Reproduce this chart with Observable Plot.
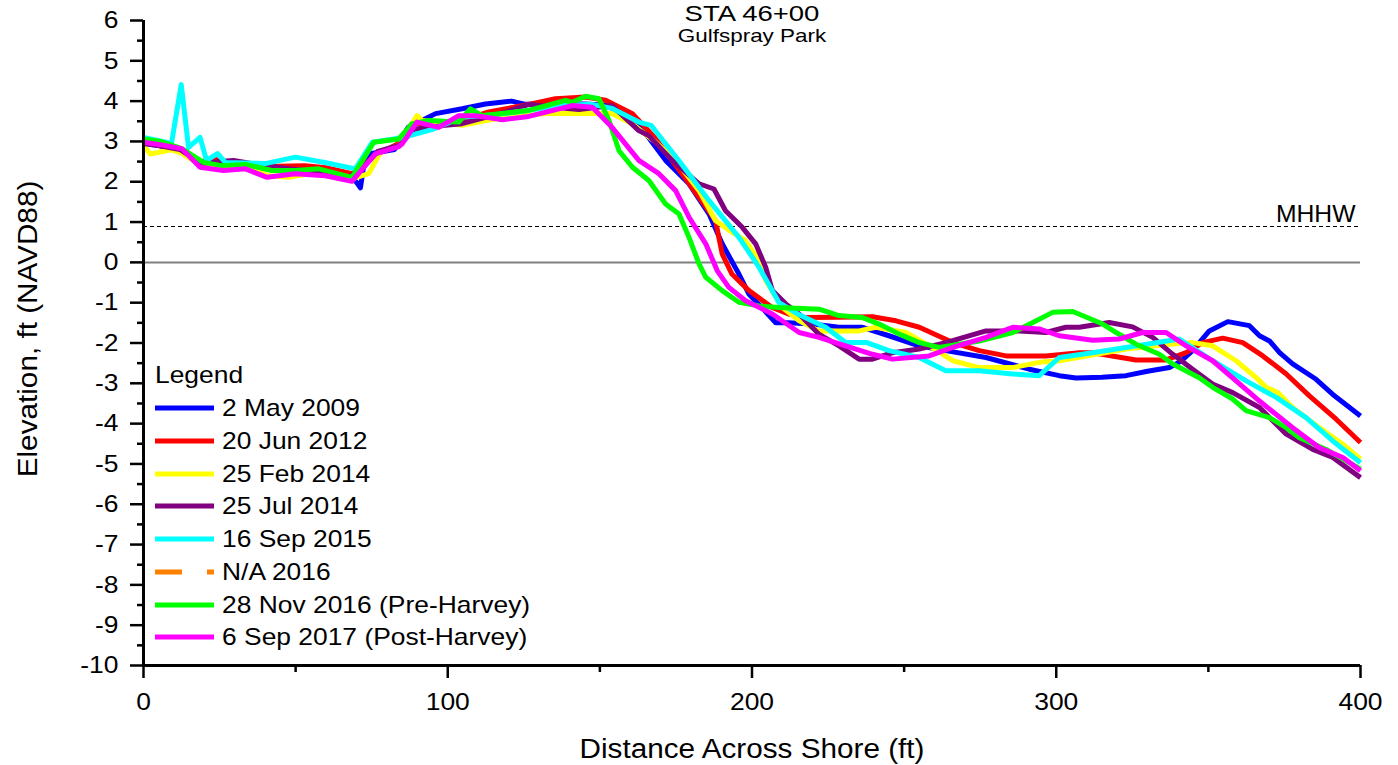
<!DOCTYPE html>
<html><head><meta charset="utf-8">
<script src="https://cdn.jsdelivr.net/npm/d3@7"></script>
<script src="https://cdn.jsdelivr.net/npm/@observablehq/plot@0.6"></script>
<style>
body{margin:0;background:#fff;}
#wrap{position:relative;width:1398px;height:765px;font-family:"Liberation Sans",Arial,sans-serif;color:#000;}
.row{position:absolute;left:155px;height:32px;display:flex;align-items:center;font-size:24px;white-space:nowrap;}
.row svg{display:block;margin-right:8px;}
.row span{display:inline-block;transform:scaleX(1.1);transform-origin:left center;}
</style></head><body><div id="wrap"></div>
<script>
// ---- data (distance ft, elevation ft NAVD88) ----
const may2009 = [[0,2.95],[5,2.9],[12,2.8],[19,2.45],[25,2.5],[33,2.45],[42,2.35],[50,2.3],[58,2.3],[68,2.2],[71.3,1.85],[72.3,2.35],[75,2.7],[82.5,2.8],[87,3.35],[96,3.69],[104.7,3.81],[112.4,3.93],[121,4.0],[125.6,3.92],[136.5,3.93],[145.3,3.93],[152,3.9],[160,3.6],[166,3.1],[171.6,2.53],[179.3,1.95],[185.9,1.2],[190.2,0.46],[195.7,-0.29],[199,-0.79],[203,-1.1],[207.8,-1.5],[212,-1.5],[219.8,-1.53],[228,-1.6],[236.3,-1.61],[245,-1.82],[254.9,-2.07],[263.7,-2.19],[276.9,-2.36],[291.1,-2.65],[301,-2.81],[306.5,-2.87],[315,-2.85],[322.9,-2.81],[330,-2.7],[337.2,-2.61],[341,-2.45],[344.8,-2.19],[350.3,-1.7],[356.4,-1.47],[363.5,-1.57],[366.8,-1.82],[370.1,-1.95],[373.4,-2.24],[377.7,-2.52],[385.4,-2.9],[390.8,-3.27],[400,-3.81]];
const jun2012 = [[0,3.0],[5,2.9],[12,2.8],[19,2.5],[24,2.55],[30,2.45],[40,2.38],[53,2.4],[60,2.35],[68.5,2.2],[72,2.4],[77.3,2.7],[83.9,2.95],[88.2,3.44],[96,3.45],[104.6,3.52],[113.5,3.73],[126.6,3.92],[135.4,4.06],[145.3,4.1],[151.9,4.02],[160.7,3.69],[168,3.1],[177,2.2],[182.6,1.61],[188,1.04],[190.2,0.21],[193.4,-0.29],[199,-0.7],[206.6,-1.12],[212,-1.28],[217.7,-1.37],[228,-1.36],[239.6,-1.35],[247.3,-1.45],[255,-1.61],[266,-1.99],[274.7,-2.19],[283.5,-2.32],[296.6,-2.32],[307.6,-2.24],[312,-2.24],[326.2,-2.42],[336.1,-2.42],[342.7,-2.24],[348.1,-1.99],[354.7,-1.88],[361.3,-1.99],[367.9,-2.32],[375.6,-2.77],[383.2,-3.31],[392,-3.89],[400,-4.47]];
const feb2014 = [[0,2.9],[2.2,2.69],[9.2,2.79],[12.5,2.71],[19.1,2.4],[27,2.38],[34.5,2.33],[41.1,2.15],[47.7,2.11],[55.3,2.21],[68.5,2.07],[74,2.2],[78,2.75],[84,2.9],[89.9,3.64],[91.6,3.52],[104.7,3.4],[115.7,3.56],[132.1,3.69],[147.5,3.69],[154,3.69],[160.6,3.44],[168,3.0],[174.9,2.53],[182.6,1.78],[188,1.04],[193.4,0.75],[197.9,0.54],[202.3,0.04],[204.5,-0.45],[210,-1.12],[215.5,-1.45],[222,-1.7],[235.2,-1.7],[240.7,-1.61],[250.6,-1.74],[258.2,-2.07],[266,-2.44],[274.7,-2.61],[285.7,-2.61],[294.4,-2.48],[301,-2.44],[322.9,-2.15],[337.2,-2.03],[344.8,-1.99],[351.4,-2.07],[359.1,-2.44],[365.7,-2.86],[369,-3.1],[372.8,-3.23],[377.7,-3.6],[386.5,-4.1],[394.2,-4.51],[400,-4.88]];
const jul2014 = [[0,2.95],[5,2.9],[12,2.8],[19,2.45],[25,2.5],[29.6,2.53],[38,2.42],[47.7,2.32],[57,2.25],[67.4,2.1],[72,2.35],[77,2.75],[84,2.9],[89,3.3],[99.2,3.4],[104.7,3.44],[119,3.73],[126.6,3.92],[135,3.85],[143.1,3.79],[154,3.89],[162.8,3.27],[166,3.15],[173.8,2.53],[182.6,1.95],[187.5,1.82],[191.3,1.28],[196.8,0.87],[201.2,0.46],[204.5,-0.12],[206.7,-0.7],[211.1,-1.03],[215.5,-1.28],[222,-1.78],[228.6,-2.07],[235.2,-2.4],[239.6,-2.4],[246.2,-2.24],[255,-2.15],[263.7,-1.99],[276.9,-1.7],[287.8,-1.7],[296.6,-1.74],[303.2,-1.61],[307.6,-1.61],[317.4,-1.49],[325.1,-1.6],[331.7,-1.86],[338.3,-2.28],[344.8,-2.65],[351.4,-3.02],[358,-3.23],[366.8,-3.6],[375.6,-4.26],[384.3,-4.64],[390.9,-4.84],[400,-5.34]];
const sep2015 = [[0,3.1],[9.2,2.95],[12.4,4.41],[14.8,2.85],[18.6,3.1],[20.7,2.53],[24.3,2.7],[26.9,2.48],[40,2.45],[49.9,2.61],[60,2.47],[69.6,2.32],[75.2,2.98],[85.5,3.1],[95,3.3],[104.6,3.6],[119,3.69],[137.5,3.89],[147.4,3.92],[154,3.82],[162.8,3.48],[166.8,3.4],[176,2.52],[185.9,1.53],[195.7,0.62],[202.3,-0.12],[208.9,-1.0],[215.5,-1.3],[224.2,-1.61],[230.8,-1.99],[237.8,-1.99],[245,-2.19],[254.9,-2.36],[263.7,-2.69],[274.7,-2.69],[285.7,-2.77],[294.4,-2.81],[301,-2.36],[311.9,-2.24],[322.9,-2.11],[340.5,-1.9],[351.4,-2.44],[362.4,-2.94],[372.3,-3.35],[382.1,-3.85],[390.9,-4.43],[400,-4.97]];
const na2016 = [];
const nov2016 = [[0,3.06],[5.5,3.0],[12.6,2.82],[19.7,2.48],[25.8,2.4],[33.5,2.43],[42.2,2.28],[49.9,2.28],[57.6,2.32],[68.5,2.11],[75.7,2.98],[83.9,3.06],[88.3,3.44],[93.8,3.52],[103.6,3.48],[107.5,3.81],[111.3,3.64],[126.6,3.77],[138.7,4.02],[140.9,3.97],[145.3,4.12],[149.7,4.06],[153,3.52],[156.3,2.77],[160.7,2.36],[166.1,2.03],[171.6,1.45],[176,1.2],[179.3,0.62],[182.6,-0.04],[184.8,-0.37],[190.2,-0.7],[195.7,-0.99],[202.3,-1.08],[208.9,-1.12],[222,-1.16],[228.6,-1.32],[236.3,-1.37],[241.8,-1.53],[248.4,-1.78],[255,-1.99],[261.5,-2.11],[274.7,-1.95],[285.7,-1.74],[292.3,-1.49],[298.8,-1.24],[305.4,-1.22],[315.3,-1.53],[319.7,-1.74],[326.2,-2.03],[333.9,-2.28],[338.3,-2.52],[347,-2.86],[351.4,-3.1],[358,-3.39],[362.4,-3.68],[370.1,-3.85],[375.6,-4.1],[379.9,-4.35],[388.7,-4.64],[400,-5.13]];
const sep2017 = [[0,2.98],[5.5,2.92],[12.6,2.82],[18.6,2.36],[26.3,2.28],[33.5,2.32],[40.6,2.11],[49.9,2.2],[59.8,2.15],[68.5,2.01],[76.2,2.69],[83.9,2.87],[85,2.94],[89.9,3.48],[97,3.35],[103.6,3.64],[109.1,3.64],[117.9,3.54],[126.6,3.62],[140.9,3.89],[147.5,3.85],[154,3.35],[162.8,2.53],[169.4,2.2],[174.9,1.78],[179.3,1.12],[184.8,0.46],[188.6,-0.21],[192.4,-0.62],[197.9,-0.95],[206.7,-1.28],[215.5,-1.74],[222,-1.86],[230.8,-2.07],[239.6,-2.28],[246.2,-2.4],[258.2,-2.32],[266,-2.11],[276.9,-1.86],[285.7,-1.61],[294.4,-1.65],[301,-1.82],[312,-1.93],[320.7,-1.9],[328.4,-1.74],[336.1,-1.74],[342.7,-2.07],[351.4,-2.44],[359.1,-2.94],[366.8,-3.44],[377.7,-4.1],[386.5,-4.6],[394.2,-4.84],[400,-5.17]];

const seriesNames = ["2 May 2009","20 Jun 2012","25 Feb 2014","25 Jul 2014","16 Sep 2015","N/A 2016","28 Nov 2016 (Pre-Harvey)","6 Sep 2017 (Post-Harvey)"];
const seriesColors = ["#0000ff","#ff0000","#ffff00","#800080","#00ffff","#ff8000","#00ff00","#ff00ff"];
const profiles = [may2009, jun2012, feb2014, jul2014, sep2015, na2016, nov2016, sep2017];
const mhhwLevel = [0.89];
const xMajor = [0,100,200,300,400];
const xMinor = [50,150,250,350];
const yMajor = [6,5,4,3,2,1,0,-1,-2,-3,-4,-5,-6,-7,-8,-9,-10];
const yMinor = [5.5,4.5,3.5,2.5,1.5,0.5,-0.5,-1.5,-2.5,-3.5,-4.5,-5.5,-6.5,-7.5,-8.5,-9.5];
const titleText = "STA 46+00";
const subtitleText = "Gulfspray Park";
const xTitle = "Distance Across Shore (ft)";
const yTitle = "Elevation, ft (NAVD88)";

const rows = profiles.flatMap((p, i) => p.map(([d, e]) => ({survey: seriesNames[i], distance: d, elevation: e})));

const chart = Plot.plot({
  width: 1398, height: 765,
  marginLeft: 143, marginRight: 38, marginTop: 20, marginBottom: 100,
  x: {domain: [0, 400]},
  y: {domain: [-10, 6]},
  color: {domain: seriesNames, range: seriesColors},
  style: {fontFamily: '"Liberation Sans", Arial, sans-serif', fontSize: "24px", color: "#000", background: "#fff", overflow: "visible"},
  marks: [
    Plot.ruleY([0], {stroke: "#808080", strokeWidth: 2}),
    Plot.ruleY(mhhwLevel, {stroke: "#000", strokeWidth: 1.2, strokeDasharray: "4,3"}),
    Plot.text(["MHHW"], {frameAnchor: "right", y: () => mhhwLevel[0], text: d => d, textAnchor: "end", lineAnchor: "bottom", dx: -5, dy: -4, fontSize: 24}),
    Plot.line(rows, {x: "distance", y: "elevation", z: "survey", stroke: "survey", strokeWidth: 5, strokeLinejoin: "round", strokeLinecap: "butt"}),
    Plot.axisX({ticks: xMajor, tickSize: 13, tickPadding: 14, strokeWidth: 2.5, fontSize: 24, label: null, tickFormat: d => `${d}`}),
    Plot.axisX({ticks: xMinor, tickSize: 7, strokeWidth: 2.5, text: null, label: null}),
    Plot.axisY({ticks: yMajor, tickSize: 13, tickPadding: 12, strokeWidth: 2.5, fontSize: 24, label: null, tickFormat: d => `${d}`}),
    Plot.axisY({ticks: yMinor, tickSize: 6, strokeWidth: 2.5, text: null, label: null}),
    Plot.ruleX([0], {stroke: "#000", strokeWidth: 3}),
    Plot.ruleY([-10], {stroke: "#000", strokeWidth: 3}),
    Plot.text([titleText], {frameAnchor: "top", text: d => d, lineAnchor: "bottom", dy: 0.3, fontSize: 22}),
    Plot.text([subtitleText], {frameAnchor: "top", text: d => d, lineAnchor: "bottom", dy: 21.5, fontSize: 19}),
    Plot.text([xTitle], {frameAnchor: "bottom", text: d => d, lineAnchor: "bottom", dy: 92, fontSize: 27}),
    Plot.text([yTitle], {frameAnchor: "left", text: d => d, textAnchor: "middle", lineAnchor: "bottom", rotate: -90, dx: -107, dy: -14, fontSize: 27})
  ]
});

const wrap = document.getElementById("wrap");
wrap.appendChild(chart);

// widen glyphs slightly to match the reference's horizontally stretched lettering
const stretch = {"MHHW": 1.03, "Gulfspray Park": 1.18, "STA 46+00": 1.25};
d3.select(chart).selectAll("text").each(function() {
  const t = this.textContent;
  const k = stretch[t] ?? 1.1;
  const len = this.getComputedTextLength();
  if (len > 0) {
    this.setAttribute("textLength", (len * k).toFixed(1));
    this.setAttribute("lengthAdjust", "spacingAndGlyphs");
  }
});

// legend overlay inside the plot area
function addRow(top, content) {
  const r = document.createElement("div");
  r.className = "row";
  r.style.top = top + "px";
  r.innerHTML = content;
  wrap.appendChild(r);
}
addRow(359, "<span>Legend</span>");
seriesNames.forEach((name, i) => {
  const dash = name.startsWith("N/A") ? 'stroke-dasharray="27,25"' : "";
  const sw = `<svg width="59" height="8"><line x1="0" y1="4" x2="59" y2="4" stroke="${seriesColors[i]}" stroke-width="5" ${dash}/></svg>`;
  addRow(392.3 + i * 32.7, sw + `<span>${name}</span>`);
});
</script>
</body></html>
